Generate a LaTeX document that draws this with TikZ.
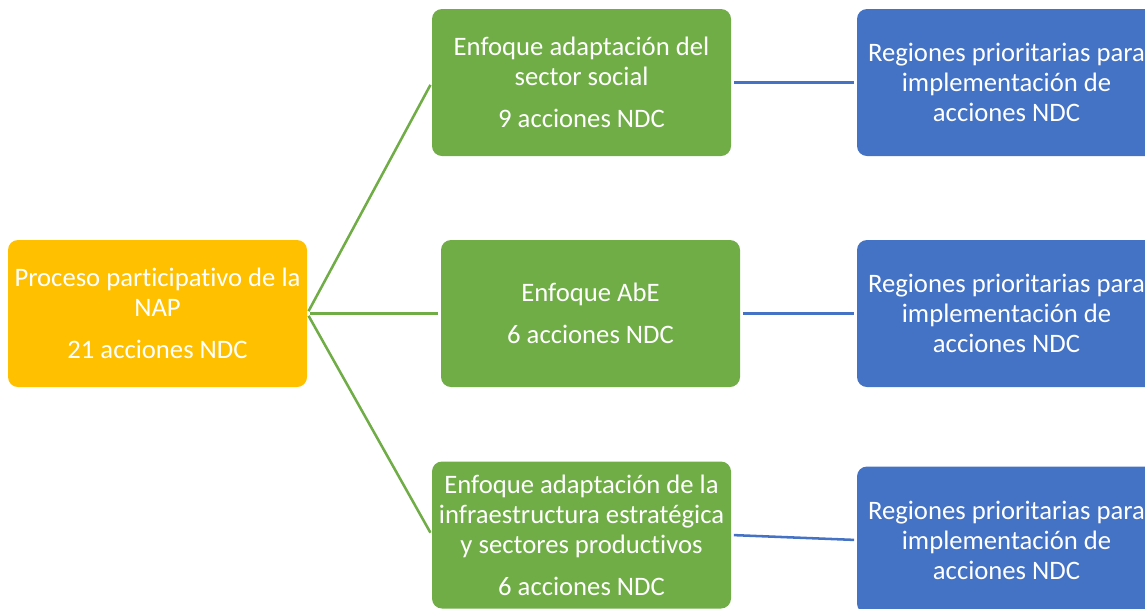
\documentclass[tikz,border=0pt]{standalone}
\usepackage{fontspec}
\setmainfont{Carlito}[Ligatures={NoCommon,NoContextual}]
\definecolor{napgold}{HTML}{FFC000}
\definecolor{napgreen}{HTML}{70AD47}
\definecolor{napblue}{HTML}{4472C4}
\tikzset{
  napbox/.style={rounded corners=7.5pt, inner sep=0pt, minimum width=224.25pt,
    minimum height=110.25pt, align=center, text=white,
    font=\fontsize{20}{22.5}\selectfont},
  goldbox/.style={napbox, fill=napgold},
  greenbox/.style={napbox, fill=napgreen},
  bluebox/.style={napbox, fill=napblue},
  greenlink/.style={draw=napgreen, line width=1.9pt, shorten <=2pt, shorten >=2pt},
  bluelink/.style={draw=napblue, line width=1.9pt, shorten <=2pt, shorten >=2pt}
}
\begin{document}
\begin{tikzpicture}[x=0.75pt,y=-0.75pt]
\clip (0,0) rectangle (1145,608);

\node[goldbox] (nap) at (157.5,313.5) {Proceso participativo de la\\NAP\\[9pt]21 acciones NDC};

\node[greenbox] (social) at (581.5,82.5) {Enfoque adaptación del\\sector social\\[9pt]9 acciones NDC};
\node[greenbox] (abe) at (590.5,313.5) {Enfoque AbE\\[9pt]6 acciones NDC};
\node[greenbox] (infra) at (581.5,535) {Enfoque adaptación de la\\infraestructura estratégica\\y sectores productivos\\[9pt]6 acciones NDC};

\node[bluebox] (reg1) at (1006.5,82.5) {Regiones prioritarias para\\implementación de\\acciones NDC};
\node[bluebox] (reg2) at (1006.5,313.5) {Regiones prioritarias para\\implementación de\\acciones NDC};
\node[bluebox] (reg3) at (1006.5,540) {Regiones prioritarias para\\implementación de\\acciones NDC};

\draw[greenlink] (nap.east) -- (social.west);
\draw[greenlink] (nap.east) -- (abe.west);
\draw[greenlink] (nap.east) -- (infra.west);

\draw[bluelink] (social.east) -- (reg1.west);
\draw[bluelink] (abe.east) -- (reg2.west);
\draw[bluelink] (infra.east) -- (reg3.west);
\end{tikzpicture}
\end{document}
